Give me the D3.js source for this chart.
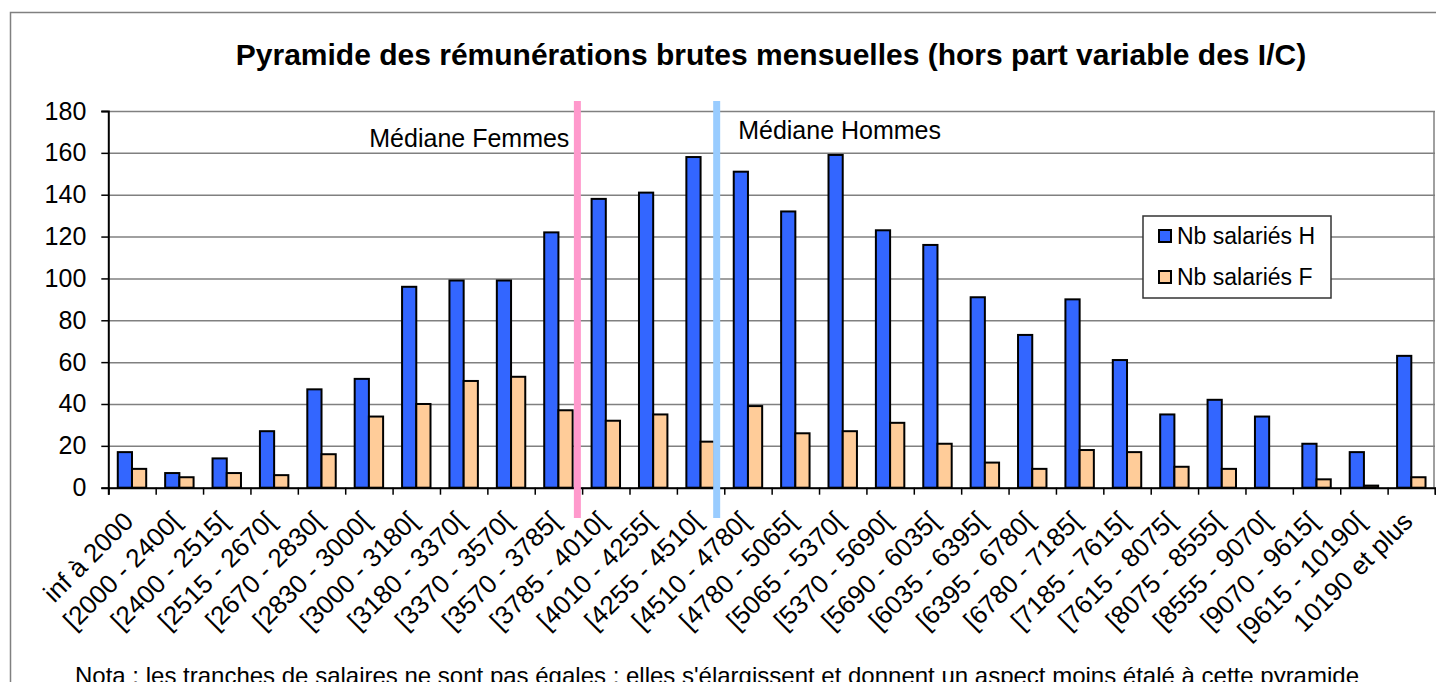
<!DOCTYPE html>
<html>
<head>
<meta charset="utf-8">
<script src="https://cdn.jsdelivr.net/npm/d3@7"></script>
<style>
  body { margin: 0; background: #fff; }
  #vis { width: 1436px; height: 682px; }
  text { font-family: Arial, "Liberation Sans", sans-serif; fill: #000; }
</style>
</head>
<body>
<div id="vis"></div>
<script>
var categories = ['inf à 2000', '[2000 - 2400[', '[2400 - 2515[', '[2515 - 2670[', '[2670 - 2830[',
    '[2830 - 3000[', '[3000 - 3180[', '[3180 - 3370[', '[3370 - 3570[', '[3570 - 3785[',
    '[3785 - 4010[', '[4010 - 4255[', '[4255 - 4510[', '[4510 - 4780[', '[4780 - 5065[',
    '[5065 - 5370[', '[5370 - 5690[', '[5690 - 6035[', '[6035 - 6395[', '[6395 - 6780[',
    '[6780 - 7185[', '[7185 - 7615[', '[7615 - 8075[', '[8075 - 8555[', '[8555 - 9070[',
    '[9070 - 9615[', '[9615 - 10190[', '10190 et plus'];

var nb_h = [17, 7, 14, 27, 47, 52, 96, 99, 99, 122, 138, 141, 158, 151, 132, 159, 123, 116,
    91, 73, 90, 61, 35, 42, 34, 21, 17, 63];
var nb_f = [9, 5, 7, 6, 16, 34, 40, 51, 53, 37, 32, 35, 22, 39, 26, 27, 31, 21,
    12, 9, 18, 17, 10, 9, 0, 4, 1, 5];

var series_names = ['Nb salariés H', 'Nb salariés F'];
var series_colors = ['#3366FF', '#FFCC99'];

var y_ticks = [0, 20, 40, 60, 80, 100, 120, 140, 160, 180];

// medians, in category units along the x axis
var median_f = 9.9;
var median_h = 12.84;

var title = 'Pyramide des rémunérations brutes mensuelles (hors part variable des I/C)';
var note = 'Nota : les tranches de salaires ne sont pas égales ; elles s\'élargissent et donnent un aspect moins étalé à cette pyramide';

var width = 1436;
var height = 682;

var plot = { left: 108.3, right: 1435, top: 111, bottom: 487.7 };

var svg = d3.select('#vis')
    .append('svg')
    .attr('width', width)
    .attr('height', height);

// chart border
svg.append('rect')
    .attr('x', 10.5)
    .attr('y', 12.5)
    .attr('width', 1450)
    .attr('height', 720)
    .attr('fill', 'none')
    .attr('stroke', '#808080')
    .attr('stroke-width', 1.5);

svg.append('text')
    .attr('x', 771)
    .attr('y', 65)
    .attr('text-anchor', 'middle')
    .style('font-size', '30px')
    .style('font-weight', 'bold')
    .text(title);

var x_scale = d3.scaleBand()
    .domain(categories)
    .range([plot.left, plot.right])
    .paddingInner(0.4)
    .paddingOuter(0.2);

var x_series = d3.scaleBand()
    .domain(series_names)
    .range([0, x_scale.bandwidth()]);

var x_pos = d3.scaleLinear()
    .domain([0, categories.length])
    .range([plot.left, plot.right]);

var y_scale = d3.scaleLinear()
    .domain([0, 180])
    .range([plot.bottom, plot.top]);

// gridlines
svg.append('g')
    .attr('class', 'grid')
    .attr('transform', 'translate(' + plot.left + ',0)')
    .call(d3.axisLeft(y_scale).tickValues(y_ticks).tickSize(-(plot.right - plot.left)).tickFormat(''))
    .call(function(g) {
        g.select('.domain').remove();
        g.selectAll('line').attr('stroke', '#808080').attr('stroke-width', 1.5);
    });

// right border of plot area
svg.append('line')
    .attr('x1', plot.right - 1).attr('x2', plot.right - 1)
    .attr('y1', plot.top).attr('y2', plot.bottom)
    .attr('stroke', '#808080')
    .attr('stroke-width', 1.5);

// bars
var groups = svg.selectAll('.cat')
    .data(categories)
    .enter()
    .append('g')
    .attr('class', 'cat')
    .attr('transform', function(d) { return 'translate(' + x_scale(d) + ',0)'; });

groups.selectAll('rect')
    .data(function(d, i) {
        return [{ s: series_names[0], v: nb_h[i], c: series_colors[0] },
                { s: series_names[1], v: nb_f[i], c: series_colors[1] }];
    })
    .enter()
    .append('rect')
    .attr('x', function(d) { return x_series(d.s); })
    .attr('width', x_series.bandwidth())
    .attr('y', function(d) { return y_scale(d.v); })
    .attr('height', function(d) { return plot.bottom - y_scale(d.v); })
    .attr('fill', function(d) { return d.c; })
    .attr('stroke', '#000')
    .attr('stroke-width', 2);

// y axis
svg.append('g')
    .attr('class', 'y axis')
    .attr('transform', 'translate(' + plot.left + ',0)')
    .call(d3.axisLeft(y_scale).tickValues(y_ticks).tickSize(7).tickPadding(15))
    .call(function(g) {
        g.select('.domain').attr('stroke', '#000').attr('stroke-width', 2);
        g.selectAll('line').attr('stroke', '#000').attr('stroke-width', 1.5);
        g.selectAll('text').style('font-size', '25px').style('font-family', 'Arial, "Liberation Sans", sans-serif');
    });

// x axis, ticks between categories
svg.append('g')
    .attr('class', 'x axis')
    .attr('transform', 'translate(0,' + plot.bottom + ')')
    .call(d3.axisBottom(x_pos).tickValues(d3.range(0, categories.length + 1)).tickSize(7).tickFormat(''))
    .call(function(g) {
        g.select('.domain').attr('stroke', '#000').attr('stroke-width', 2);
        g.selectAll('line').attr('stroke', '#000').attr('stroke-width', 1.5);
    });

svg.append('g')
    .selectAll('text')
    .data(categories)
    .enter()
    .append('text')
    .attr('transform', function(d) {
        return 'translate(' + (x_scale(d) + x_scale.bandwidth() / 2 + 3) + ',' + 523 + ') rotate(-45)';
    })
    .attr('text-anchor', 'end')
    .style('font-size', '26px')
    .text(function(d) { return d; });

// median lines
var medians = [
    { v: median_f, c: '#FF99CC', label: 'Médiane Femmes', side: 'end', dx: -8, y: 146.7 },
    { v: median_h, c: '#99CCFF', label: 'Médiane Hommes', side: 'start', dx: 21.5, y: 139 }
];

svg.selectAll('.median')
    .data(medians)
    .enter()
    .append('line')
    .attr('class', 'median')
    .attr('x1', function(d) { return x_pos(d.v); })
    .attr('x2', function(d) { return x_pos(d.v); })
    .attr('y1', 101)
    .attr('y2', 518)
    .attr('stroke', function(d) { return d.c; })
    .attr('stroke-width', 7);

svg.selectAll('.median-label')
    .data(medians)
    .enter()
    .append('text')
    .attr('class', 'median-label')
    .attr('x', function(d) { return x_pos(d.v) + d.dx; })
    .attr('y', function(d) { return d.y; })
    .attr('text-anchor', function(d) { return d.side; })
    .style('font-size', '25px')
    .text(function(d) { return d.label; });

// legend
var legend = svg.append('g')
    .attr('transform', 'translate(1143,216)');

legend.append('rect')
    .attr('width', 188)
    .attr('height', 82)
    .attr('fill', '#fff')
    .attr('stroke', '#333')
    .attr('stroke-width', 1.5);

var items = legend.selectAll('.item')
    .data(series_names)
    .enter()
    .append('g')
    .attr('class', 'item')
    .attr('transform', function(d, i) { return 'translate(16,' + (14 + i * 41) + ')'; });

items.append('rect')
    .attr('width', 12)
    .attr('height', 12)
    .attr('fill', function(d, i) { return series_colors[i]; })
    .attr('stroke', '#000')
    .attr('stroke-width', 2);

items.append('text')
    .attr('x', 18)
    .attr('y', 14)
    .style('font-size', '23px')
    .text(function(d) { return d; });

svg.append('text')
    .attr('x', 75)
    .attr('y', 684)
    .style('font-size', '24px')
    .text(note);
</script>
</body>
</html>
